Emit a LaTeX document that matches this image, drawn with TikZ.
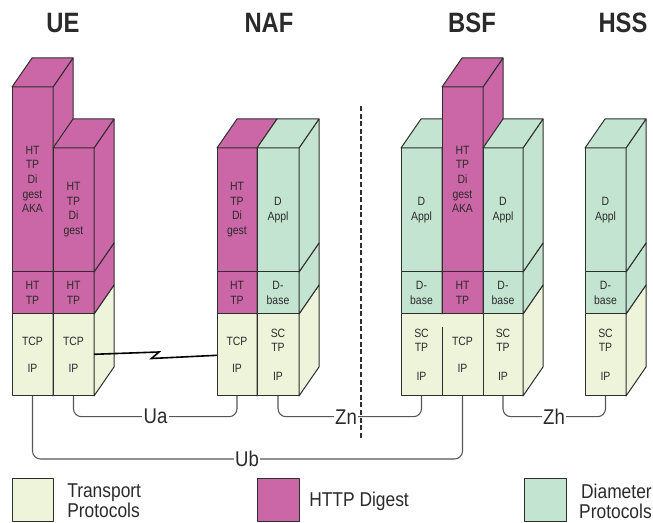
\documentclass[tikz,border=0pt]{standalone}
\usepackage{fontspec}
\setmainfont{Liberation Sans}[FakeStretch=0.87]
\newfontfamily\titlefont{Liberation Sans}[FakeStretch=0.85]
\usetikzlibrary{calc}
\definecolor{mag}{HTML}{CC67A7}
\definecolor{dia}{HTML}{C4E4D2}
\definecolor{trn}{HTML}{EDF4DA}
\definecolor{edge}{HTML}{2E2E2E}
\definecolor{txt}{HTML}{2A2A2A}
\definecolor{cline}{HTML}{555555}
\newcommand{\blk}[5]{%
  \filldraw[box,fill=#5] (#1,#2) rectangle (#3,#4);
  \filldraw[box,fill=#5] (#3,#2) -- ({#3+20},{#2-29}) -- ({#3+20},{#4-29}) -- (#3,#4) -- cycle;}
\newcommand{\topf}[4]{%
  \filldraw[box,fill=#4] (#1,#3) -- (#2,#3) -- ({#2+20},{#3-29}) -- ({#1+20},{#3-29}) -- cycle;}
\tikzset{
 box/.style={draw=edge, line width=0.75pt, line join=round},
 lab/.style={font=\fontsize{9}{11}\selectfont, text=txt, align=center, inner sep=0pt},
 ttl/.style={font=\titlefont\bfseries\fontsize{21}{21}\selectfont, text=txt, inner sep=0pt},
 conn/.style={draw=cline, line width=0.8pt, rounded corners=6pt},
 ifc/.style={font=\fontsize{16}{16}\selectfont, fill=white, inner sep=1pt, text=txt},
 leg/.style={font=\fontsize{15}{15}\selectfont, text=txt, align=left, inner sep=0pt},
 bolt/.style={draw=black, line width=1.2pt, line join=miter},
 divline/.style={draw=edge, line width=1.4pt, dash pattern=on 3.8pt off 1.9pt}
}
\begin{document}
\begin{tikzpicture}[x=0.75pt,y=-0.75pt]
\useasboundingbox (0,0) rectangle (653,523);

% titles
\node[ttl] (tUE) at (63,22.7) {UE};
\node[ttl] (tNAF) at (269,22.7) {NAF};
\node[ttl] (tBSF) at (472,22.7) {BSF};
\node[ttl] (tHSS) at (623,22.7) {HSS};

% ---------- UE ----------
\blk{12}{314}{53}{396}{trn}
\blk{12}{272}{53}{314}{mag}
\blk{12}{87}{53}{272}{mag}
\topf{12}{53}{87}{mag}
\blk{53}{314}{94}{396}{trn}
\blk{53}{272}{94}{314}{mag}
\blk{53}{148}{94}{272}{mag}
\topf{53}{94}{148}{mag}
\node[lab] (ue1) at (32.5,179.5) {HT\\TP\\Di\\gest\\AKA};
\node[lab] (ue2) at (73.5,209.5) {HT\\TP\\Di\\gest};
\node[lab] (ue3) at (32.5,293) {HT\\TP};
\node[lab] (ue4) at (73.5,293) {HT\\TP};
\node[lab] (ue5) at (32.5,354.5) {TCP\\[9.3pt]IP};
\node[lab] (ue6) at (73.5,354.5) {TCP\\[9.3pt]IP};

% ---------- NAF ----------
\blk{217}{314}{257}{396}{trn}
\blk{217}{272}{257}{314}{mag}
\blk{217}{148}{257}{272}{mag}
\topf{217}{257}{148}{mag}
\blk{257}{314}{299}{396}{trn}
\blk{257}{272}{299}{314}{dia}
\blk{257}{148}{299}{272}{dia}
\topf{257}{299}{148}{dia}
\node[lab] (naf1) at (237,209.5) {HT\\TP\\Di\\gest};
\node[lab] (naf2) at (278,210) {D\\Appl};
\node[lab] (naf3) at (237,293) {HT\\TP};
\node[lab] (naf4) at (278,293) {D-\\base};
\node[lab] (naf5) at (237,354.5) {TCP\\[9.3pt]IP};
\node[lab] (naf6) at (278,354.5) {SC\\TP\\[10.5pt]IP};

% ---------- BSF ----------
\blk{401}{314}{523}{396}{trn}
\blk{401}{272}{442}{314}{dia}
\blk{401}{148}{442}{272}{dia}
\topf{401}{442}{148}{dia}
\blk{442}{272}{483}{314}{mag}
\blk{442}{87}{483}{272}{mag}
\topf{442}{483}{87}{mag}
\blk{483}{272}{523}{314}{dia}
\blk{483}{148}{523}{272}{dia}
\topf{483}{523}{148}{dia}
\draw[box] (442,327) -- (442,396);
\draw[box] (483,314) -- (483,396);
\node[lab] (bsf1) at (421.5,210) {D\\Appl};
\node[lab] (bsf2) at (462.5,179.5) {HT\\TP\\Di\\gest\\AKA};
\node[lab] (bsf3) at (503,210) {D\\Appl};
\node[lab] (bsf4) at (421.5,293) {D-\\base};
\node[lab] (bsf5) at (462.5,293) {HT\\TP};
\node[lab] (bsf6) at (503,293) {D-\\base};
\node[lab] (bsf7) at (421.5,354.5) {SC\\TP\\[10.5pt]IP};
\node[lab] (bsf8) at (462.5,354.5) {TCP\\[9.3pt]IP};
\node[lab] (bsf9) at (503,354.5) {SC\\TP\\[10.5pt]IP};

% ---------- HSS ----------
\blk{585}{314}{626}{396}{trn}
\blk{585}{272}{626}{314}{dia}
\blk{585}{148}{626}{272}{dia}
\topf{585}{626}{148}{dia}
\node[lab] (hss1) at (605.5,210) {D\\Appl};
\node[lab] (hss2) at (605.5,293) {D-\\base};
\node[lab] (hss3) at (605.5,354.5) {SC\\TP\\[10.5pt]IP};

% ---------- radio link ----------
\coordinate (lzA) at (94,354.3);
\coordinate (lzB) at (217,355.3);
\draw[bolt] (lzA) -- (159,352) -- (151.5,358.5) -- (lzB);

% ---------- interfaces ----------
\coordinate (ueA) at (32.5,396);
\coordinate (ueB) at (73.5,396);
\coordinate (nafA) at (237,396);
\coordinate (nafB) at (278,396);
\coordinate (bsfA) at (421.5,396);
\coordinate (bsfB) at (462.5,396);
\coordinate (bsfC) at (503,396);
\coordinate (hssA) at (605.5,396);
\coordinate (mUa) at (155.5,416.7);
\coordinate (mZn) at (346,416.7);
\coordinate (mZh) at (554,416.7);
\coordinate (mUb) at (247,459);
\draw[conn] (ueB) |- (mUa) -| (nafA);
\draw[conn] (nafB) |- (mZn) -| (bsfA);
\draw[conn] (bsfC) |- (mZh) -| (hssA);
\draw[conn] (ueA) |- (mUb) -| (bsfB);
\node[ifc] (lUa) at (mUa) {Ua};
\node[ifc] (lZn) at (mZn) {Zn};
\node[ifc] (lZh) at (mZh) {Zh};
\node[ifc] (lUb) at (mUb) {Ub};

% dashed separator
\coordinate (dTop) at (361,106);
\coordinate (dBot) at (361,439);
\draw[divline] (dTop) -- (dBot);

% ---------- legend ----------
\filldraw[box,fill=trn] (12,479) rectangle (53,521);
\filldraw[box,fill=mag] (257,479) rectangle (299,521);
\filldraw[box,fill=dia] (524,479) rectangle (566,521);
\node[leg,anchor=west] (lg1) at (67,501) {Transport\\Protocols};
\node[leg,anchor=west] (lg2) at (309,501) {HTTP Digest};
\node[leg,anchor=east,align=right] (lg3) at (652,501) {Diameter\\Protocols};
\end{tikzpicture}
\end{document}
